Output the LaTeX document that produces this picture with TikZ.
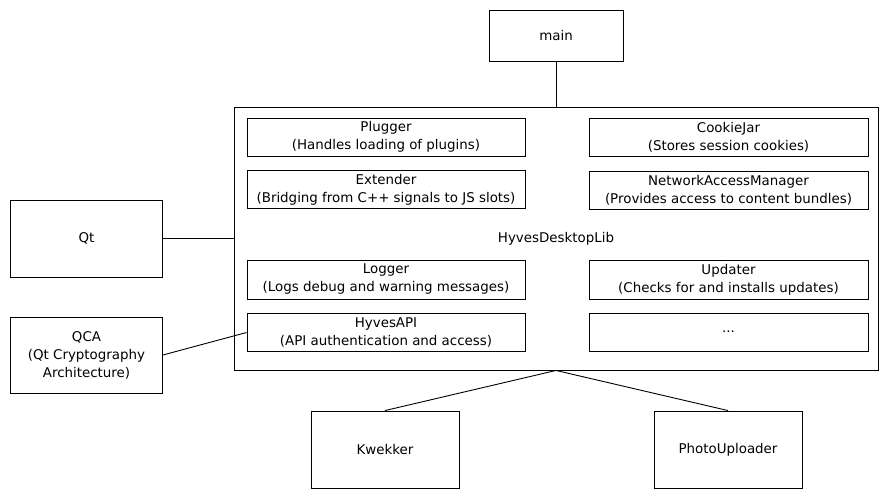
\documentclass[tikz,border=0pt]{standalone}
\usepackage{fontspec}
\setmainfont{DejaVu Sans}
\begin{document}
\begin{tikzpicture}[x=1pt,y=-1pt,
  every node/.style={font=\fontsize{13.4}{18}\selectfont, align=center, inner sep=0pt},
  box/.style={draw, line width=0.9pt, rectangle},
  conn/.style={line width=0.9pt}]
\useasboundingbox (0,0) rectangle (887,498);
\fill[white] (0,0) rectangle (887,498);
\node[box, minimum width=134pt, minimum height=51pt] (main) at (556,35.5) {main};
\node[box, minimum width=644pt, minimum height=263pt] (lib) at (556,238.5) {};
\node (libl) at (556,239) {HyvesDesktopLib};
\node[box, minimum width=278pt, minimum height=38pt] (plug) at (386,137) {Plugger\\(Handles loading of plugins)};
\node[box, minimum width=279pt, minimum height=38pt] (cookie) at (728.5,137) {CookieJar\\(Stores session cookies)};
\node[box, minimum width=278pt, minimum height=38pt] (ext) at (386,189.5) {Extender\\(Bridging from C++ signals to JS slots)};
\node[box, minimum width=279pt, minimum height=38pt] (nam) at (728.5,190) {NetworkAccessManager\\(Provides access to content bundles)};
\node[box, minimum width=278pt, minimum height=39pt] (log) at (386,279.5) {Logger\\(Logs debug and warning messages)};
\node[box, minimum width=279pt, minimum height=39pt] (upd) at (728.5,279.5) {Updater\\(Checks for and installs updates)};
\node[box, minimum width=278pt, minimum height=38pt] (api) at (386,332.5) {HyvesAPI\\(API authentication and access)};
\node[box, minimum width=279pt, minimum height=38pt] (dots) at (728.5,332) {...};
\node[box, minimum width=152pt, minimum height=77pt] (qt) at (86.5,238.5) {Qt};
\node[box, minimum width=152pt, minimum height=76pt] (qca) at (86.5,355) {QCA\\(Qt Cryptography\\Architecture)};
\node[box, minimum width=148pt, minimum height=77pt] (kw) at (385,449.5) {Kwekker};
\node[box, minimum width=148pt, minimum height=77pt] (pu) at (728,449.5) {PhotoUploader};
\draw[conn] (main.south) -- (lib.north);
\draw[conn] (qt.east) -- (qt.east -| lib.west);
\draw[conn] (qca.east) -- (api.west);
\draw[conn] (lib.south) -- (kw.north);
\draw[conn] (lib.south) -- (pu.north);
\end{tikzpicture}
\end{document}
